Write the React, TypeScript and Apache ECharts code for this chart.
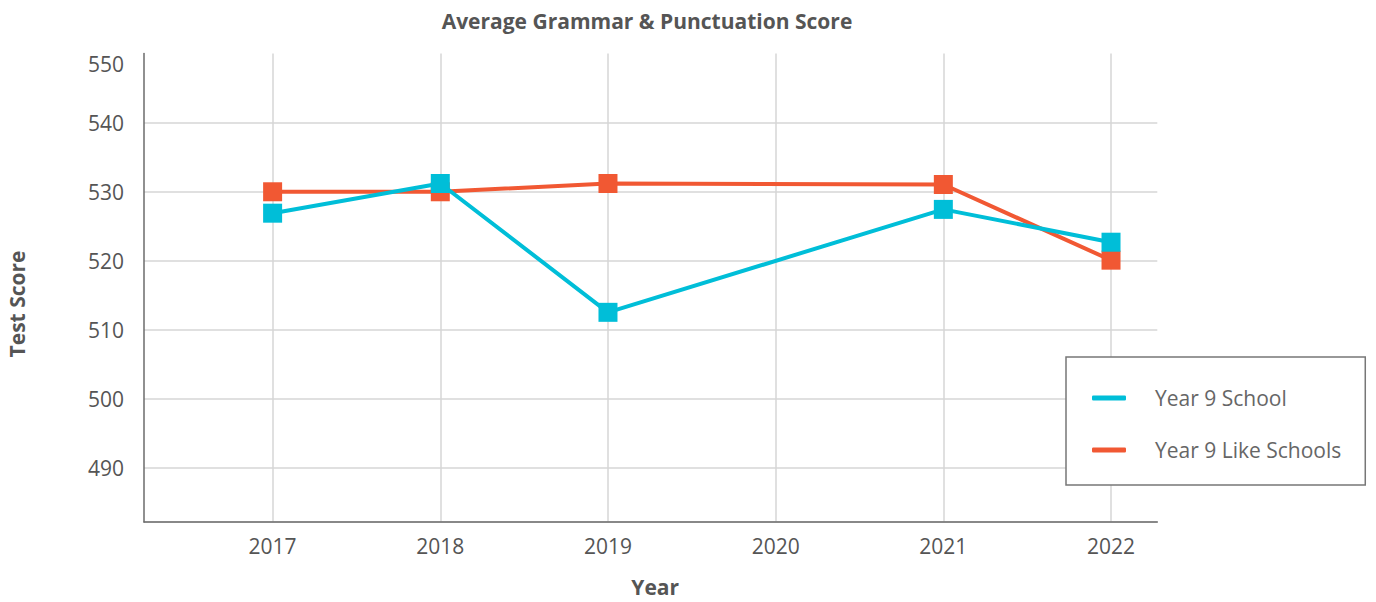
import React, { useEffect, useRef } from "react";
import * as echarts from "echarts";

const years = [2017, 2018, 2019, 2020, 2021, 2022];
const schoolScores: (number | null)[] = [526.9, 531.2, 512.55, null, 527.45, 522.7];
const likeSchoolScores: (number | null)[] = [530.0, 530.0, 531.2, null, 531.05, 520.1];
const seriesNames = ["Year 9 School", "Year 9 Like Schools"];
const seriesColors = ["#00BED8", "#F15833"];

const FONT = "'Open Sans', sans-serif";

export default function App() {
  const ref = useRef<HTMLDivElement>(null);
  useEffect(() => {
    if (!ref.current) return;
    const chart = echarts.init(ref.current, undefined, { renderer: "svg" });
    const toPairs = (vals: (number | null)[]) => years.map((y, i) => [y, vals[i]]);
    chart.setOption({
      animation: false,
      backgroundColor: "#ffffff",
      textStyle: { fontFamily: FONT },
      title: {
        text: "Average Grammar & Punctuation Score",
        left: 642,
        top: 5,
        textAlign: "center",
        textStyle: { fontFamily: FONT, fontSize: 21, fontWeight: "bold", color: "#555555" },
      },
      legend: {
        orient: "vertical",
        left: 1066,
        top: 357,
        padding: [29, 24, 23, 26],
        itemGap: 28,
        itemWidth: 34,
        itemHeight: 5,
        icon: "roundRect",
        borderColor: "#777777",
        borderWidth: 1.5,
        backgroundColor: "#ffffff",
        data: seriesNames,
        textStyle: {
          fontFamily: FONT,
          fontSize: 21,
          color: "#666666",
          lineHeight: 24,
          padding: [0, 0, 0, 24],
        },
      },
      grid: { left: 144, right: 218.7, top: 53.6, bottom: 80, containLabel: false },
      xAxis: {
        type: "value",
        min: 2016.233,
        max: 2022.276,
        minInterval: 1,
        maxInterval: 1,
        name: "Year",
        nameLocation: "middle",
        nameGap: 54,
        nameTextStyle: {
          fontFamily: FONT,
          fontSize: 21,
          fontWeight: "bold",
          color: "#555555",
          padding: [0, 0, 0, 9],
        },
        axisLine: { show: true, lineStyle: { color: "#6b6b6b", width: 1.5 } },
        axisTick: { show: false },
        axisLabel: {
          showMinLabel: false,
          showMaxLabel: false,
          margin: 13,
          fontFamily: FONT,
          fontSize: 21,
          color: "#555555",
          formatter: (v: number) => String(Math.round(v)),
        },
        splitLine: {
          show: true,
          showMinLine: false,
          showMaxLine: false,
          lineStyle: { color: "#d6d6d6", width: 1.5 },
        },
      },
      yAxis: {
        type: "value",
        min: 482.2,
        max: 550,
        minInterval: 10,
        maxInterval: 10,
        axisLine: { show: true, lineStyle: { color: "#6b6b6b", width: 1.5 } },
        axisTick: { show: false },
        axisLabel: {
          showMinLabel: false,
          margin: 20,
          fontFamily: FONT,
          fontSize: 21,
          color: "#555555",
          verticalAlignMaxLabel: "top",
        },
        splitLine: {
          show: true,
          showMaxLine: false,
          lineStyle: { color: "#d6d6d6", width: 1.5 },
        },
      },
      graphic: [
        {
          type: "text",
          x: 16.5,
          y: 304,
          rotation: Math.PI / 2,
          style: {
            text: "Test Score",
            fontFamily: FONT,
            fontSize: 21,
            fontWeight: "bold",
            fill: "#555555",
            textAlign: "center",
            textVerticalAlign: "middle",
          },
        },
      ],
      series: [
        {
          name: seriesNames[1],
          type: "line",
          data: toPairs(likeSchoolScores),
          connectNulls: true,
          symbol: "rect",
          symbolSize: 19,
          z: 2,
          lineStyle: { color: seriesColors[1], width: 4 },
          itemStyle: { color: seriesColors[1] },
        },
        {
          name: seriesNames[0],
          type: "line",
          data: toPairs(schoolScores),
          connectNulls: true,
          symbol: "rect",
          symbolSize: 19,
          z: 3,
          lineStyle: { color: seriesColors[0], width: 4 },
          itemStyle: { color: seriesColors[0] },
        },
      ],
    });
    return () => chart.dispose();
  }, []);
  return (
    <div
      ref={ref}
      style={{ position: "fixed", left: 0, top: 0, width: 1376, height: 602 }}
    />
  );
}
